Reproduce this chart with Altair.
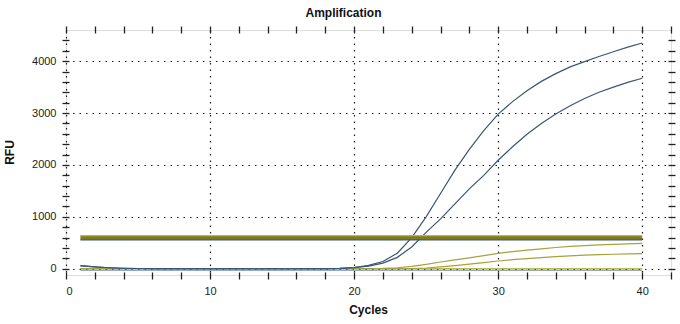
import altair as alt
import pandas as pd

cycles = list(range(1, 41))

sample_a = [60, 35, 20, 10, 5, 3, 2, 1, 0, 0, 0, 0, 0, 0, 0, 0, 0, 2, 8, 25,
            65, 140, 300, 600, 1000, 1450, 1900, 2300, 2660, 2980, 3220, 3430,
            3610, 3760, 3890, 3990, 4090, 4180, 4270, 4350]
sample_b = [55, 35, 20, 10, 5, 3, 2, 1, 0, 0, 0, 0, 0, 0, 0, 0, 0, 2, 8, 22,
            50, 110, 220, 420, 700, 960, 1250, 1540, 1800, 2090, 2350, 2590,
            2800, 2980, 3140, 3280, 3400, 3500, 3590, 3670]
yellow_a = [5, 5, 5, 5, 5, 5, 5, 5, 5, 5, 5, 5, 5, 5, 5, 5, 5, 5, 5, 5,
            5, 8, 20, 45, 85, 130, 170, 210, 255, 295, 330, 360,
            385, 410, 430, 445, 460, 470, 480, 490]
yellow_b = [0, 0, 0, 0, 0, 0, 0, 0, 0, 0, 0, 0, 0, 0, 0, 0, 0, 0, 0, 0,
            0, 0, 2, 5, 15, 35, 60, 90, 120, 150, 175, 195,
            215, 235, 250, 262, 272, 280, 287, 293]
yellow_flat = [5] * 40
blue_neg = [-25] * 40

threshold_value = 600
threshold_cycles = [1, 40]

series_names = ["yellow_flat", "blue_neg", "yellow_b", "yellow_a", "sample_b", "sample_a"]
series_values = [yellow_flat, blue_neg, yellow_b, yellow_a, sample_b, sample_a]
series_colors = ["#c2bb4a", "#6f8fb3", "#a9a13c", "#a9a13c", "#3b5675", "#3b5675"]

rows = []
for name, vals in zip(series_names, series_values):
    for c, v in zip(cycles, vals):
        rows.append({"Cycle": c, "RFU": v, "series": name})
df = pd.DataFrame(rows)

thr = pd.DataFrame({"Cycle": threshold_cycles, "RFU": [threshold_value] * 2})

FONT = "Liberation Sans"
xscale = alt.Scale(domain=[0, 42], nice=False, zero=False)
yscale = alt.Scale(domain=[-120, 4600], nice=False, zero=False)

major_x = [0, 10, 20, 30, 40]
major_y = [0, 1000, 2000, 3000, 4000]
minor_x = list(range(0, 43, 2))
minor_y = list(range(0, 4600, 200))

lines = alt.Chart(df).mark_line(strokeWidth=1.2).encode(
    x=alt.X("Cycle:Q", scale=xscale,
            axis=alt.Axis(orient="bottom", values=major_x, format="d", grid=True, ticks=False, domain=False,
                          gridColor="#000", gridDash=[1.5, 5], gridWidth=1.2, gridOpacity=0.9,
                          labelFont=FONT, labelFontSize=11, labelColor="#222", labelPadding=10,
                          title="Cycles", titleFont=FONT, titleFontSize=12, titleFontWeight="bold",
                          titleColor="#111", titleY=29, titleX=302, titleBaseline="top")),
    y=alt.Y("RFU:Q", scale=yscale,
            axis=alt.Axis(orient="left", values=major_y, format="d", grid=True, ticks=False, domain=False,
                          gridColor="#000", gridDash=[1.5, 5], gridWidth=1.2, gridOpacity=0.9,
                          labelFont=FONT, labelFontSize=11, labelColor="#222", labelPadding=10,
                          title="RFU", titleFont=FONT, titleFontSize=12, titleFontWeight="bold",
                          titleColor="#111", titleX=-50, titleY=122)),
    color=alt.Color("series:N", scale=alt.Scale(domain=series_names, range=series_colors), legend=None),
    order=alt.Order("order_idx:Q"),
).transform_calculate(order_idx="indexof(%s, datum.series)" % str(series_names))

thr_main = alt.Chart(thr).mark_line(strokeWidth=4, color="#7f7c1e").encode(
    x=alt.X("Cycle:Q", scale=xscale, axis=None),
    y=alt.Y("RFU:Q", scale=yscale, axis=None),
)
thr_top = alt.Chart(thr).mark_line(strokeWidth=1.2, color="#bdb743").encode(
    x=alt.X("Cycle:Q", scale=xscale, axis=None),
    y=alt.Y("y2:Q", scale=yscale, axis=None),
).transform_calculate(y2="datum.RFU + 38")
thr_edge = alt.Chart(thr).mark_line(strokeWidth=1.2, color="#3b5675").encode(
    x=alt.X("Cycle:Q", scale=xscale, axis=None),
    y=alt.Y("y2:Q", scale=yscale, axis=None),
).transform_calculate(y2="datum.RFU - 45")


def tick_layer(xorient, yorient):
    return alt.Chart(thr).mark_point(opacity=0).encode(
        x=alt.X("Cycle:Q", scale=xscale,
                axis=alt.Axis(orient=xorient, values=minor_x, offset=-3, tickSize=7, tickWidth=1.3,
                              tickColor="#222", labels=False, domain=False, grid=False, title=None)),
        y=alt.Y("RFU:Q", scale=yscale,
                axis=alt.Axis(orient=yorient, values=minor_y, offset=-3, tickSize=7, tickWidth=1.3,
                              tickColor="#222", labels=False, domain=False, grid=False, title=None)),
    )


chart = alt.layer(
    lines, thr_main, thr_top, thr_edge, tick_layer("bottom", "left"), tick_layer("top", "right")
).resolve_axis(x="independent", y="independent").properties(
    width=605, height=245,
    autosize=alt.AutoSizeParams(type="none"),
    padding={"left": 66, "top": 30, "right": 9, "bottom": 49},
    title=alt.TitleParams("Amplification", font=FONT, fontSize=12, fontWeight="bold",
                          color="#111", offset=5, dx=-25),
).configure_view(stroke="#222", strokeWidth=1.6).configure(background="white")

chart.save("out.html", embed_options={"renderer": "svg", "actions": False})
